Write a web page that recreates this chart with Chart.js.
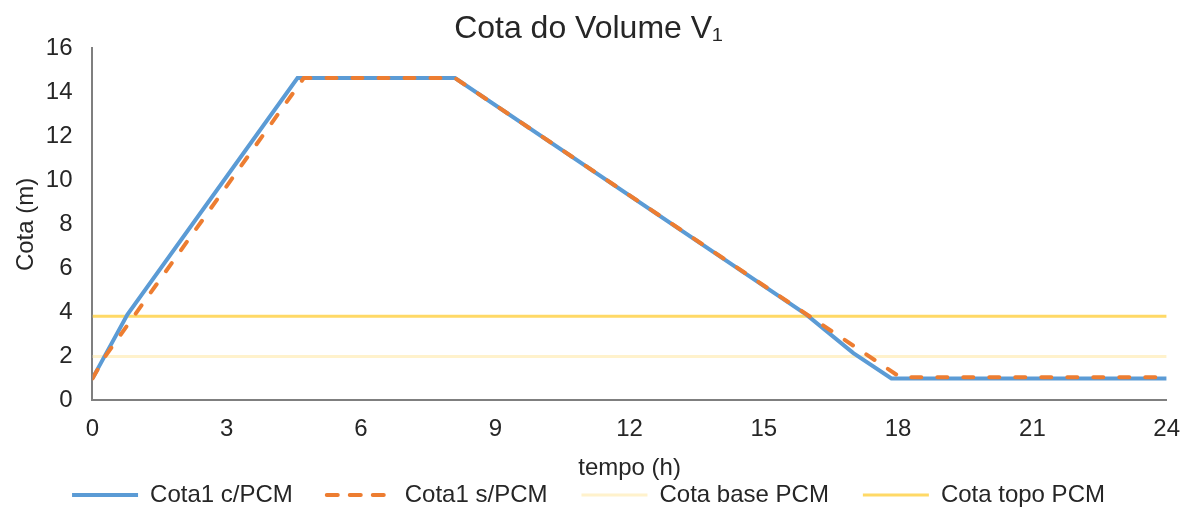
<!DOCTYPE html>
<html lang="pt">
<head>
<meta charset="UTF-8">
<title>Cota do Volume V1</title>
<script src="https://cdn.jsdelivr.net/npm/chart.js"></script>
<style>
    body { margin: 0; background: #fff; }
    #wrap { width: 1187px; height: 512px; }
</style>
</head>
<body>
<div id="wrap"><canvas id="myChart"></canvas></div>
<script>
// valores: tempo (h) e cota (m)
var tempoComPCM = [0, 0.78, 4.58, 8.1, 15.95, 17.0, 17.85, 24];
var cotaComPCM  = [1.0, 3.9, 14.65, 14.65, 3.9, 2.15, 1.0, 1.0];
var tempoSemPCM = [0, 0.3, 4.72, 8.1, 18.05, 24];
var cotaSemPCM  = [1.0, 2.05, 14.65, 14.65, 1.05, 1.05];
var tempoLimites = [0, 24];
var cotaBasePCM = [2.0, 2.0];
var cotaTopoPCM = [3.82, 3.82];
var ticksTempo = [0, 3, 6, 9, 12, 15, 18, 21, 24];
var ticksCota  = [0, 2, 4, 6, 8, 10, 12, 14, 16];

var fonte = "'Liberation Sans', Arial, 'DejaVu Sans', sans-serif";
var corTexto = '#262626';

function pontos(xs, ys) {
    return xs.map(function (x, i) { return { x: x, y: ys[i] }; });
}

var ctx = document.getElementById('myChart').getContext('2d');
var myChart = new Chart(ctx, {
    type: 'line',
    data: {
        datasets: [{
            label: 'Cota1 c/PCM',
            data: pontos(tempoComPCM, cotaComPCM),
            borderColor: '#5B9BD5',
            borderWidth: 4,
            order: 1
        }, {
            label: 'Cota1 s/PCM',
            data: pontos(tempoSemPCM, cotaSemPCM),
            borderColor: '#ED7D31',
            borderWidth: 4,
            borderDash: [10, 16],
            borderCapStyle: 'round',
            order: 0
        }, {
            label: 'Cota base PCM',
            data: pontos(tempoLimites, cotaBasePCM),
            borderColor: '#FFF2CC',
            borderWidth: 3,
            order: 2
        }, {
            label: 'Cota topo PCM',
            data: pontos(tempoLimites, cotaTopoPCM),
            borderColor: '#FFD966',
            borderWidth: 3,
            order: 3
        }]
    },
    options: {
        responsive: true,
        maintainAspectRatio: false,
        animation: false,
        elements: {
            point: { radius: 0, hoverRadius: 0 },
            line: { tension: 0, fill: false }
        },
        layout: { padding: { left: 0, right: 10, top: 0, bottom: -5 } },
        scales: {
            x: {
                type: 'linear',
                min: 0,
                max: 24,
                afterBuildTicks: function (axis) {
                    axis.ticks = ticksTempo.map(function (v) { return { value: v }; });
                },
                grid: { display: false },
                border: { display: true, color: '#7f7f7f', width: 2 },
                ticks: { padding: 7, color: corTexto, font: { family: fonte, size: 24 } },
                title: {
                    display: true,
                    text: 'tempo (h)',
                    color: corTexto,
                    font: { family: fonte, size: 24 },
                    padding: { top: 3, bottom: -34 }
                }
            },
            y: {
                min: 0,
                max: 16,
                afterBuildTicks: function (axis) {
                    axis.ticks = ticksCota.map(function (v) { return { value: v }; });
                },
                grid: { display: false },
                border: { display: true, color: '#7f7f7f', width: 2 },
                ticks: { padding: 12, color: corTexto, font: { family: fonte, size: 24 } },
                title: {
                    display: true,
                    text: 'Cota (m)',
                    color: corTexto,
                    font: { family: fonte, size: 24 },
                    padding: { top: 12, bottom: -7 }
                }
            }
        },
        plugins: {
            title: {
                display: true,
                text: 'Cota do Volume V\u2081',
                color: corTexto,
                font: { family: fonte, size: 32, weight: 'normal' },
                padding: { top: 10, bottom: 0 }
            },
            legend: {
                position: 'bottom',
                labels: {
                    usePointStyle: true,
                    pointStyle: 'line',
                    pointStyleWidth: 66,
                    padding: 34,
                    color: corTexto,
                    font: { family: fonte, size: 24 },
                    sort: function (a, b) { return a.datasetIndex - b.datasetIndex; },
                    generateLabels: function (chart) {
                        var itens = Chart.defaults.plugins.legend.labels.generateLabels(chart);
                        itens.forEach(function (item) {
                            var ds = chart.data.datasets[item.datasetIndex];
                            item.strokeStyle = ds.borderColor;
                            item.lineWidth = ds.borderWidth;
                            item.lineDash = ds.borderDash ? [11, 12] : [];
                            item.lineCap = ds.borderCapStyle || 'butt';
                        });
                        return itens;
                    }
                }
            },
            tooltip: { enabled: false }
        }
    }
});
</script>
</body>
</html>
